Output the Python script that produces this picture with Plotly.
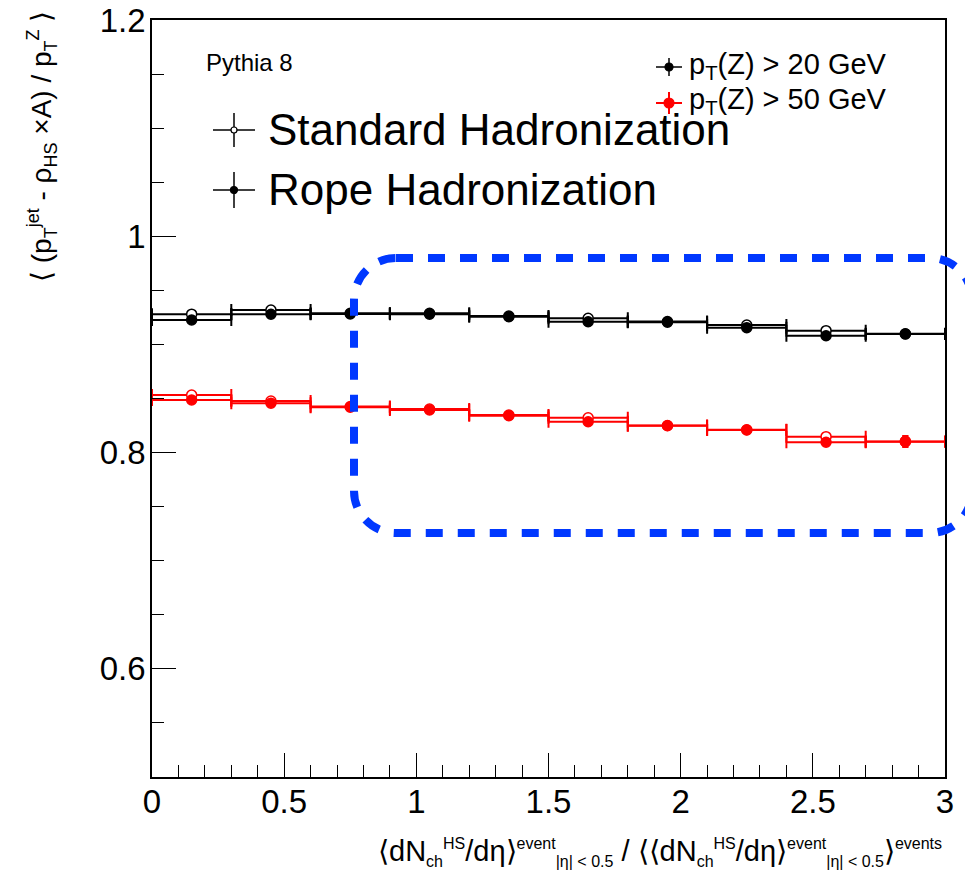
import plotly.graph_objects as go

# ---------------- data ----------------
x_centers = [0.15, 0.45, 0.75, 1.05, 1.35, 1.65, 1.95, 2.25, 2.55, 2.85]
bin_half_width = [0.15, 0.15, 0.15, 0.15, 0.15, 0.15, 0.15, 0.15, 0.15, 0.15]

std_pt20 = [0.928, 0.9318, 0.9288, 0.9288, 0.9262, 0.9241, 0.9212, 0.918, 0.9127, 0.9098]
rope_pt20 = [0.9226, 0.9279, 0.9281, 0.928, 0.9256, 0.921, 0.9205, 0.9155, 0.908, 0.9096]
std_pt50 = [0.8532, 0.8477, 0.8426, 0.8403, 0.8347, 0.8322, 0.8250, 0.8211, 0.8147, 0.8103]
rope_pt50 = [0.8486, 0.8456, 0.8419, 0.8394, 0.8341, 0.8285, 0.8248, 0.8209, 0.8095, 0.8101]
err_pt20 = [0.001, 0.001, 0.001, 0.001, 0.001, 0.001, 0.0012, 0.0015, 0.002, 0.003]
err_pt50 = [0.0015, 0.0015, 0.0015, 0.0015, 0.0015, 0.0015, 0.002, 0.002, 0.003, 0.005]

x_tick_vals = [0, 0.5, 1, 1.5, 2, 2.5, 3]
x_tick_text = ["0", "0.5", "1", "1.5", "2", "2.5", "3"]
y_tick_vals = [0.6, 0.8, 1.0, 1.2]
y_tick_text = ["0.6", "0.8", "1", "1.2"]

# ---------------- layout geometry ----------------
W, H = 965, 890
ML, MR, MT, MB = 152, 20, 20, 113
PW = W - ML - MR
PH = H - MT - MB
FONT = "Liberation Sans, Arial, Helvetica, sans-serif"


def px(xp):
    return (xp - ML) / PW


def py(yp):
    return (H - MB - yp) / PH


fig = go.Figure()

series = [
    (std_pt20, err_pt20, "black", True, "Standard, pT(Z) > 20 GeV"),
    (std_pt50, err_pt50, "red", True, "Standard, pT(Z) > 50 GeV"),
    (rope_pt20, err_pt20, "black", False, "Rope, pT(Z) > 20 GeV"),
    (rope_pt50, err_pt50, "red", False, "Rope, pT(Z) > 50 GeV"),
]
for yv, ev, col, is_open, name in series:
    fig.add_trace(go.Scatter(
        x=x_centers, y=yv, mode="markers", name=name, showlegend=False,
        marker=dict(symbol="circle", size=10,
                    color="white" if is_open else col,
                    line=dict(color=col, width=1.5)),
        error_x=dict(type="data", array=bin_half_width, color=col,
                     thickness=2, width=6),
        error_y=dict(type="data", array=ev, color=col, thickness=2, width=3),
    ))

# ---------------- decorations ----------------
shapes = []


def P(a, b):
    return f"{px(a):.5f},{py(b):.5f}"


# blue dashed rounded rectangle (highlight)
x0, x1, y0, y1, r = 354, 972, 258, 533, 42
k = 0.5523 * r
path = (
    f"M {P(x0 + r, y0)} L {P(x1 - r, y0)} "
    f"C {P(x1 - r + k, y0)} {P(x1, y0 + r - k)} {P(x1, y0 + r)} "
    f"L {P(x1, y1 - r)} "
    f"C {P(x1, y1 - r + k)} {P(x1 - r + k, y1)} {P(x1 - r, y1)} "
    f"L {P(x0 + r, y1)} "
    f"C {P(x0 + r - k, y1)} {P(x0, y1 - r + k)} {P(x0, y1 - r)} "
    f"L {P(x0, y0 + r)} "
    f"C {P(x0, y0 + r - k)} {P(x0 + r - k, y0)} {P(x0 + r, y0)} Z"
)
shapes.append(dict(type="path", xref="paper", yref="paper", path=path,
                   line=dict(color="#0038ff", width=8, dash="17px,15px"),
                   layer="above"))


def legend_icon(cx, cy, hw, hh, col, radius, filled, lw=1.5):
    shapes.append(dict(type="line", xref="paper", yref="paper",
                       x0=px(cx - hw), x1=px(cx + hw), y0=py(cy), y1=py(cy),
                       line=dict(color=col, width=lw)))
    shapes.append(dict(type="line", xref="paper", yref="paper",
                       x0=px(cx), x1=px(cx), y0=py(cy - hh), y1=py(cy + hh),
                       line=dict(color=col, width=lw)))
    shapes.append(dict(type="circle", xref="paper", yref="paper",
                       x0=px(cx - radius), x1=px(cx + radius),
                       y0=py(cy - radius), y1=py(cy + radius),
                       fillcolor=col if filled else "white",
                       line=dict(color=col, width=1.2)))


legend_icon(669, 67, 13, 9, "black", 4, True)
legend_icon(669, 103, 13, 11, "red", 5, True, lw=2)
legend_icon(234, 130, 21, 17, "black", 3, False)
legend_icon(234, 190, 21, 18, "black", 3.5, True)

annotations = [
    dict(text="Pythia 8", x=px(204), y=py(62), size=24),
    dict(text="p<sub>T</sub>(Z) > 20 GeV", x=px(687), y=py(66), size=29),
    dict(text="p<sub>T</sub>(Z) > 50 GeV", x=px(687), y=py(101), size=29),
    dict(text="Standard Hadronization", x=px(266), y=py(129), size=44),
    dict(text="Rope Hadronization", x=px(266), y=py(190), size=44),
]
ann = []
for a in annotations:
    ann.append(dict(text=a["text"], x=a["x"], y=a["y"], xref="paper", yref="paper",
                    xanchor="left", yanchor="middle", showarrow=False,
                    font=dict(family=FONT, size=a["size"], color="black")))


def sub(t, s):
    return f"<sub><span style='font-size:{s}px'>{t}</span></sub>"


def sup(t, s):
    return f"<sup><span style='font-size:{s}px'>{t}</span></sup>"


# axis titles
ytitle = ("⟨ (p" + sub("T", 18) + sup("jet", 18) + " - ρ" + sub("HS", 18)
          + " ×A) / p" + sub("T", 18) + sup("Z", 18) + " ⟩")
ann.append(dict(
    text=ytitle, x=px(42), y=py(147), xref="paper", yref="paper", textangle=-90,
    xanchor="center", yanchor="middle", showarrow=False,
    font=dict(family=FONT, size=28, color="black")))

s = 16
xtitle = ("⟨dN" + sub("ch", s) + sup("HS", s) + "/dη⟩" + sup("event", s)
          + sub("|η| &lt; 0.5", s) + " / ⟨⟨dN" + sub("ch", s) + sup("HS", s)
          + "/dη⟩" + sup("event", s) + sub("|η| &lt; 0.5", s) + "⟩" + sup("events", s))
ann.append(dict(
    text=xtitle, x=px(944), y=py(852), xref="paper", yref="paper",
    xanchor="right", yanchor="middle", showarrow=False,
    font=dict(family=FONT, size=29, color="black")))

axis_common = dict(
    showline=True, linecolor="black", linewidth=1.5, mirror=True,
    ticks="inside", tickcolor="black", tickwidth=1, ticklen=24,
    showgrid=False, zeroline=False, automargin=False,
    tickfont=dict(family=FONT, size=33, color="black"),
)

fig.update_xaxes(range=[0, 3], tickmode="array", tickvals=x_tick_vals,
                 ticktext=x_tick_text, ticklabelstandoff=-5,
                 minor=dict(dtick=0.1, tick0=0, ticks="inside", ticklen=12,
                            tickcolor="black", tickwidth=1, showgrid=False),
                 **axis_common)
fig.update_yaxes(range=[0.5, 1.2], tickmode="array", tickvals=y_tick_vals,
                 ticktext=y_tick_text, ticklabelstandoff=-2,
                 minor=dict(dtick=0.05, tick0=0, ticks="inside", ticklen=12,
                            tickcolor="black", tickwidth=1, showgrid=False),
                 **axis_common)

fig.update_layout(
    width=W, height=H,
    margin=dict(l=ML, r=MR, t=MT, b=MB, pad=0, autoexpand=False),
    paper_bgcolor="white", plot_bgcolor="white",
    shapes=shapes, annotations=ann, showlegend=False,
    font=dict(family=FONT, color="black"),
)

fig.write_html("out.html")
